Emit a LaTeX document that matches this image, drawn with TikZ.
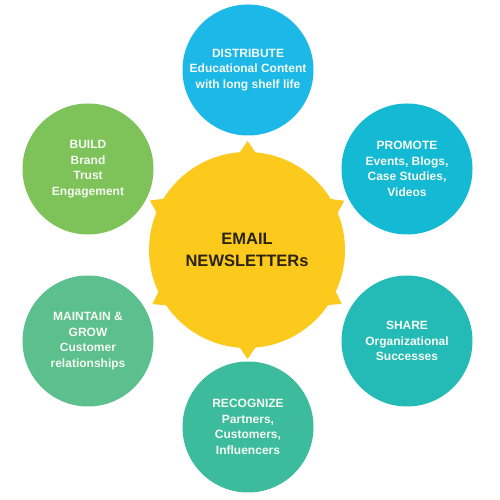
\documentclass[tikz,border=0pt]{standalone}
\usepackage{fontspec}
\setmainfont{Liberation Sans}
\usetikzlibrary{calc}
\definecolor{hubYellow}{HTML}{FCCA1C}
\definecolor{hubText}{HTML}{2B2312}
\definecolor{skyBlue}{HTML}{1BB8E8}
\definecolor{cyanBlue}{HTML}{14B9D3}
\definecolor{tealBlue}{HTML}{24BAB6}
\definecolor{seaGreen}{HTML}{3CBC9C}
\definecolor{mintGreen}{HTML}{5CBF8E}
\definecolor{leafGreen}{HTML}{7EC25A}
\definecolor{petalText}{HTML}{F5FAF2}

\begin{document}
\begin{tikzpicture}[
    x=1pt, y=1pt,
    hub/.style={circle, fill=hubYellow, minimum size=196pt, inner sep=0pt, align=center, text=hubText, font=\bfseries\fontsize{16.5}{22}\selectfont},
    petal/.style={circle, minimum size=131pt, inner sep=0pt, align=center, text=petalText, font=\bfseries\fontsize{12}{15.5}\selectfont}
  ]
    \useasboundingbox (0,0) rectangle (499,500);

    \node[hub] (hub) at (247,250) {EMAIL\\NEWSLETTERs};

    \node[petal, fill=skyBlue] (distribute) at (248,430) {DISTRIBUTE\\Educational Content\\with long shelf life};
    \node[petal, fill=cyanBlue] (promote) at (407,331) {PROMOTE\\Events, Blogs,\\Case Studies,\\Videos};
    \node[petal, fill=tealBlue] (share) at (407,159) {SHARE\\Organizational\\Successes};
    \node[petal, fill=seaGreen] (recognize) at (248,73) {RECOGNIZE\\Partners,\\Customers,\\Influencers};
    \node[petal, fill=mintGreen] (maintain) at (88,159) {MAINTAIN \&\\GROW\\Customer\\relationships};
    \node[petal, fill=leafGreen] (build) at (88,331) {BUILD\\Brand\\Trust\\Engagement};

    % small points on the hub, one toward each circle
    \foreach \t in {distribute,promote,share,recognize,maintain,build}
      \fill[hubYellow] ($(hub.center)!95pt!-6:(\t.center)$) -- ($(hub.center)!109pt!(\t.center)$) -- ($(hub.center)!95pt!6:(\t.center)$) -- cycle;
  \end{tikzpicture}
\end{document}
